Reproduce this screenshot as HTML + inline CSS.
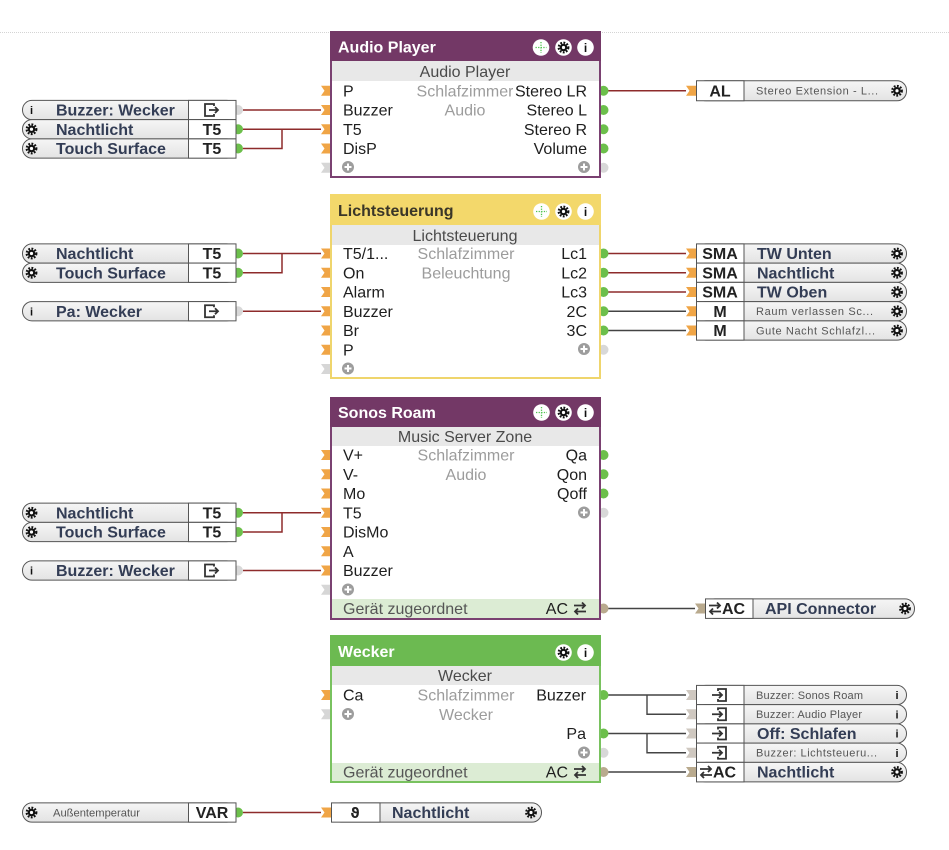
<!DOCTYPE html>
<html><head><meta charset="utf-8">
<style>
body{margin:0;background:#fff;}
svg{display:block;font-family:"Liberation Sans",Arial,sans-serif;}
.t{font-size:16px;fill:#1e1e1e;}
.r{text-anchor:end;}
.c{font-size:16px;fill:#9c9c9c;text-anchor:middle;}
.h{font-size:16px;font-weight:bold;fill:#fff;}
.s{font-size:16px;fill:#4a4a4a;text-anchor:middle;}
.b{font-size:16px;font-weight:bold;fill:#333d55;}
.v{font-size:16px;font-weight:bold;fill:#222;text-anchor:middle;}
.m{font-size:11px;fill:#555;}
.f{font-size:16px;fill:#555;}
.ii{font-size:11px;font-weight:bold;fill:#111;text-anchor:middle;}
.hi{font-size:12px;font-weight:bold;fill:#111;text-anchor:middle;}
</style></head><body>
<svg width="949" height="850" viewBox="0 0 949 850" xmlns="http://www.w3.org/2000/svg">
<defs>
<linearGradient id="g" x1="0" y1="0" x2="0" y2="1"><stop offset="0" stop-color="#f6f6f6"/><stop offset="1" stop-color="#e3e3e3"/></linearGradient>
<g id="gear"><circle r="3.8" fill="#111"/><circle r="4.8" fill="none" stroke="#111" stroke-width="2.2" stroke-dasharray="1.8 1.4"/><circle r="1.6" fill="#fff"/></g>
<polygon id="chO" points="-10,-5 0,-5 0,5 -10,5 -6.5,0" fill="#f0a546"/>
<polygon id="chG" points="-10,-5 0,-5 0,5 -10,5 -6.5,0" fill="#d6d6d6"/>
<polygon id="chT" points="-10,-5 0,-5 0,5 -10,5 -6.5,0" fill="#b9aa8e"/>
<polygon id="chL" points="-10,-5 0,-5 0,5 -10,5 -6.5,0" fill="#cfc8c0"/>
<circle id="pG" r="5" fill="#6cbf4b"/>
<circle id="pX" r="5" fill="#d8d8d8"/>
<circle id="pT" r="5" fill="#b9aa8e"/>
<g id="plus"><circle r="6" fill="#9d9d9d"/><path d="M-3.5 0H3.5M0 -3.5V3.5" stroke="#fff" stroke-width="2"/></g>
<g id="exp" fill="none" stroke="#333" stroke-width="1.8"><path d="M3 -4V-6H-6V6H3V4"/><path d="M-2 0H7M4 -3L7 0L4 3"/></g>
<g id="ent" fill="none" stroke="#333" stroke-width="1.8"><path d="M-2 -4V-6H6V6H-2V4"/><path d="M-8 0H2M-1 -3L2 0L-1 3"/></g>
<g id="swp" fill="none" stroke="#333" stroke-width="1.8"><path d="M-6 -3H5M2 -6L5 -3L2 0"/><path d="M6 3H-5M-2 0L-5 3L-2 6"/></g>
<g id="mv"><circle r="8.3" fill="#fff"/><path d="M-5.5 0H5.5M0 -5.5V5.5" stroke="#4fc34f" stroke-width="1.3" stroke-dasharray="1.3 1.3"/></g>
</defs>

<line x1="0" y1="32.5" x2="949" y2="32.5" stroke="#d4d4d4" stroke-dasharray="1 1"/>

<!-- connectors -->
<g fill="none" stroke="#8e2b2b" stroke-width="1.5">
<path d="M243 110H321M243 129.25H321M243 148.5H282V129.25"/>
<path d="M608 90.75H686"/>
<path d="M243 253.5H321M243 272.75H282V253.5M243 311.25H321"/>
<path d="M608 253.5H686M608 272.75H686M608 292H686"/>
<path d="M243 512.75H321M243 532H282V512.75M243 570.5H321"/>
<path d="M243 812.5H321"/>
</g>
<g fill="none" stroke="#444" stroke-width="1.4">
<path d="M608 311.25H686M608 330.5H686"/>
<path d="M592 608.5H695"/>
<path d="M608 695H686M647 695V714.25H686M608 733.5H686M647 733.5V752.75H686M608 772H686"/>
</g>
<circle cx="592" cy="608.5" r="1.6" fill="#fff" stroke="#444" stroke-width="1"/>

<!-- arrow chevrons at right blocks -->
<use href="#chO" x="696" y="90.75"/>
<use href="#chO" x="696" y="253.5"/><use href="#chO" x="696" y="272.75"/><use href="#chO" x="696" y="292"/><use href="#chO" x="696" y="311.25"/><use href="#chO" x="696" y="330.5"/>
<use href="#chT" x="705" y="608.5"/>
<use href="#chL" x="696" y="695"/><use href="#chL" x="696" y="714.25"/><use href="#chL" x="696" y="733.5"/><use href="#chL" x="696" y="752.75"/>
<use href="#chT" x="696" y="772"/>

<!-- left block ports -->
<use href="#pX" x="238" y="110"/><use href="#pG" x="238" y="129.25"/><use href="#pG" x="238" y="148.5"/>
<use href="#pG" x="238" y="253.5"/><use href="#pG" x="238" y="272.75"/><use href="#pX" x="238" y="311.25"/>
<use href="#pG" x="238" y="512.75"/><use href="#pG" x="238" y="532"/><use href="#pX" x="238" y="570.5"/>
<use href="#pG" x="238" y="812.5"/>

<!-- main block ports (inputs) -->
<use href="#chO" x="331" y="90.75"/><use href="#chO" x="331" y="110"/><use href="#chO" x="331" y="129.25"/><use href="#chO" x="331" y="148.5"/><use href="#chG" x="331" y="167.75"/>
<use href="#chO" x="331" y="253.5"/><use href="#chO" x="331" y="272.75"/><use href="#chO" x="331" y="292"/><use href="#chO" x="331" y="311.25"/><use href="#chO" x="331" y="330.5"/><use href="#chO" x="331" y="349.75"/><use href="#chG" x="331" y="369"/>
<use href="#chO" x="331" y="455"/><use href="#chO" x="331" y="474.25"/><use href="#chO" x="331" y="493.5"/><use href="#chO" x="331" y="512.75"/><use href="#chO" x="331" y="532"/><use href="#chO" x="331" y="551.25"/><use href="#chO" x="331" y="570.5"/><use href="#chG" x="331" y="589.75"/>
<use href="#chO" x="331" y="695"/><use href="#chG" x="331" y="714.25"/>
<use href="#chO" x="331" y="812.5"/>
<!-- outputs -->
<use href="#pG" x="603.5" y="90.75"/><use href="#pG" x="603.5" y="110"/><use href="#pG" x="603.5" y="129.25"/><use href="#pG" x="603.5" y="148.5"/><use href="#pX" x="603.5" y="167.75"/>
<use href="#pG" x="603.5" y="253.5"/><use href="#pG" x="603.5" y="272.75"/><use href="#pG" x="603.5" y="292"/><use href="#pG" x="603.5" y="311.25"/><use href="#pG" x="603.5" y="330.5"/><use href="#pX" x="603.5" y="349.75"/>
<use href="#pG" x="603.5" y="455"/><use href="#pG" x="603.5" y="474.25"/><use href="#pG" x="603.5" y="493.5"/><use href="#pX" x="603.5" y="512.75"/><use href="#pT" x="603.5" y="608.5"/>
<use href="#pG" x="603.5" y="695"/><use href="#pG" x="603.5" y="733.5"/><use href="#pX" x="603.5" y="752.75"/><use href="#pT" x="603.5" y="772"/>

<!-- ===== Audio Player ===== -->
<rect x="331" y="32" width="269" height="145" fill="#fff" stroke="#7a4171" stroke-width="2"/>
<rect x="330" y="31" width="271" height="30" fill="#733866"/>
<text x="338" y="52.5" class="h">Audio Player</text>
<use href="#mv" x="541" y="47.5"/>
<circle cx="563.5" cy="47.5" r="8.3" fill="#fff"/><use href="#gear" x="563.5" y="47.5"/>
<circle cx="585.5" cy="47.5" r="8.3" fill="#fff"/><text x="585.5" y="52" class="hi">i</text>
<rect x="332" y="61" width="267" height="20" fill="#e8e8e8"/>
<text x="465" y="77" class="s">Audio Player</text>
<text x="465" y="96.25" class="c">Schlafzimmer</text>
<text x="465" y="115.5" class="c">Audio</text>
<rect x="513" y="82" width="85" height="17" fill="#fff"/>
<text x="343" y="96.25" class="t">P</text>
<text x="343" y="115.5" class="t">Buzzer</text>
<text x="343" y="134.75" class="t">T5</text>
<text x="343" y="154" class="t">DisP</text>
<text x="587" y="96.25" class="t r">Stereo LR</text>
<text x="587" y="115.5" class="t r">Stereo L</text>
<text x="587" y="134.75" class="t r">Stereo R</text>
<text x="587" y="154" class="t r">Volume</text>
<use href="#plus" x="348" y="167"/><use href="#plus" x="584" y="167"/>

<!-- ===== Lichtsteuerung ===== -->
<rect x="331" y="195" width="269" height="183" fill="#fff" stroke="#efd56c" stroke-width="2"/>
<rect x="330" y="194" width="271" height="31" fill="#f3d86b"/>
<text x="338" y="216" class="h" style="fill:#3a3628">Lichtsteuerung</text>
<use href="#mv" x="541.5" y="211.5"/>
<circle cx="563.5" cy="211.5" r="8.3" fill="#fff"/><use href="#gear" x="563.5" y="211.5"/>
<circle cx="585.5" cy="211.5" r="8.3" fill="#fff"/><text x="585.5" y="216" class="hi">i</text>
<rect x="332" y="225" width="267" height="20" fill="#e8e8e8"/>
<text x="465" y="241" class="s">Lichtsteuerung</text>
<text x="466" y="259" class="c">Schlafzimmer</text>
<text x="466" y="278.25" class="c">Beleuchtung</text>
<text x="343" y="259" class="t">T5/1...</text>
<text x="343" y="278.25" class="t">On</text>
<text x="343" y="297.5" class="t">Alarm</text>
<text x="343" y="316.75" class="t">Buzzer</text>
<text x="343" y="336" class="t">Br</text>
<text x="343" y="355.25" class="t">P</text>
<text x="587" y="259" class="t r">Lc1</text>
<text x="587" y="278.25" class="t r">Lc2</text>
<text x="587" y="297.5" class="t r">Lc3</text>
<text x="587" y="316.75" class="t r">2C</text>
<text x="587" y="336" class="t r">3C</text>
<use href="#plus" x="584" y="349"/><use href="#plus" x="348" y="368.5"/>

<!-- ===== Sonos Roam ===== -->
<rect x="331" y="398" width="269" height="221" fill="#fff" stroke="#7a4171" stroke-width="2"/>
<rect x="330" y="397" width="271" height="30" fill="#733866"/>
<text x="338" y="418" class="h">Sonos Roam</text>
<use href="#mv" x="541.5" y="412.5"/>
<circle cx="563.5" cy="412.5" r="8.3" fill="#fff"/><use href="#gear" x="563.5" y="412.5"/>
<circle cx="585.5" cy="412.5" r="8.3" fill="#fff"/><text x="585.5" y="417" class="hi">i</text>
<rect x="332" y="427" width="267" height="19" fill="#e8e8e8"/>
<text x="465" y="442" class="s">Music Server Zone</text>
<text x="466" y="460.5" class="c">Schlafzimmer</text>
<text x="466" y="479.75" class="c">Audio</text>
<text x="343" y="460.5" class="t">V+</text>
<text x="343" y="479.75" class="t">V-</text>
<text x="343" y="499" class="t">Mo</text>
<text x="343" y="518.25" class="t">T5</text>
<text x="343" y="537.5" class="t">DisMo</text>
<text x="343" y="556.75" class="t">A</text>
<text x="343" y="576" class="t">Buzzer</text>
<text x="587" y="460.5" class="t r">Qa</text>
<text x="587" y="479.75" class="t r">Qon</text>
<text x="587" y="499" class="t r">Qoff</text>
<use href="#plus" x="584" y="512.5"/><use href="#plus" x="348" y="589.5"/>
<rect x="332" y="599" width="267" height="19" fill="#dcecd4"/>
<text x="343" y="614" class="f">Gerät zugeordnet</text>
<text x="568" y="614" class="t r">AC</text>
<use href="#swp" x="580" y="608.5"/>

<!-- ===== Wecker ===== -->
<rect x="331" y="636" width="269" height="146" fill="#fff" stroke="#79c25f" stroke-width="2"/>
<rect x="330" y="635" width="271" height="31" fill="#6cba51"/>
<text x="338" y="657" class="h">Wecker</text>
<circle cx="563.5" cy="652.5" r="8.3" fill="#fff"/><use href="#gear" x="563.5" y="652.5"/>
<circle cx="585.5" cy="652.5" r="8.3" fill="#fff"/><text x="585.5" y="657" class="hi">i</text>
<rect x="332" y="666" width="267" height="19" fill="#e8e8e8"/>
<text x="465" y="681" class="s">Wecker</text>
<text x="466" y="700.5" class="c">Schlafzimmer</text>
<text x="466" y="719.75" class="c">Wecker</text>
<text x="343" y="700.5" class="t">Ca</text>
<use href="#plus" x="348" y="714"/>
<text x="586" y="700.5" class="t r">Buzzer</text>
<text x="586" y="739" class="t r">Pa</text>
<use href="#plus" x="584" y="752.5"/>
<rect x="332" y="763" width="267" height="18" fill="#dcecd4"/>
<text x="343" y="777.5" class="f">Gerät zugeordnet</text>
<text x="568" y="777.5" class="t r">AC</text>
<use href="#swp" x="580" y="772"/>

<!-- ===== Left input blocks ===== -->
<g stroke="#555" stroke-width="1">
<rect x="22.5" y="100.4" width="213.5" height="19.25" rx="9.5" fill="url(#g)"/><rect x="188.5" y="100.4" width="47.5" height="19.25" fill="#fff"/>
<rect x="22.5" y="119.6" width="213.5" height="19.25" rx="9.5" fill="url(#g)"/><rect x="188.5" y="119.6" width="47.5" height="19.25" fill="#fff"/>
<rect x="22.5" y="138.9" width="213.5" height="19.25" rx="9.5" fill="url(#g)"/><rect x="188.5" y="138.9" width="47.5" height="19.25" fill="#fff"/>
<rect x="22.5" y="243.9" width="213.5" height="19.25" rx="9.5" fill="url(#g)"/><rect x="188.5" y="243.9" width="47.5" height="19.25" fill="#fff"/>
<rect x="22.5" y="263.1" width="213.5" height="19.25" rx="9.5" fill="url(#g)"/><rect x="188.5" y="263.1" width="47.5" height="19.25" fill="#fff"/>
<rect x="22.5" y="301.6" width="213.5" height="19.25" rx="9.5" fill="url(#g)"/><rect x="188.5" y="301.6" width="47.5" height="19.25" fill="#fff"/>
<rect x="22.5" y="503.1" width="213.5" height="19.25" rx="9.5" fill="url(#g)"/><rect x="188.5" y="503.1" width="47.5" height="19.25" fill="#fff"/>
<rect x="22.5" y="522.4" width="213.5" height="19.25" rx="9.5" fill="url(#g)"/><rect x="188.5" y="522.4" width="47.5" height="19.25" fill="#fff"/>
<rect x="22.5" y="560.9" width="213.5" height="19.25" rx="9.5" fill="url(#g)"/><rect x="188.5" y="560.9" width="47.5" height="19.25" fill="#fff"/>
<rect x="22.5" y="802.9" width="213.5" height="19.25" rx="9.5" fill="url(#g)"/><rect x="188.5" y="802.9" width="47.5" height="19.25" fill="#fff"/>
</g>
<text x="31.5" y="114" class="ii">i</text><text x="56" y="115.5" class="b">Buzzer: Wecker</text><use href="#exp" x="211" y="110"/>
<use href="#gear" x="31.5" y="129.25"/><text x="56" y="134.75" class="b">Nachtlicht</text><text x="212" y="134.75" class="v">T5</text>
<use href="#gear" x="31.5" y="148.5"/><text x="56" y="154" class="b">Touch Surface</text><text x="212" y="154" class="v">T5</text>
<use href="#gear" x="31.5" y="253.5"/><text x="56" y="259" class="b">Nachtlicht</text><text x="212" y="259" class="v">T5</text>
<use href="#gear" x="31.5" y="272.75"/><text x="56" y="278.25" class="b">Touch Surface</text><text x="212" y="278.25" class="v">T5</text>
<text x="31.5" y="315.25" class="ii">i</text><text x="56" y="316.75" class="b">Pa: Wecker</text><use href="#exp" x="211" y="311.25"/>
<use href="#gear" x="31.5" y="512.75"/><text x="56" y="518.25" class="b">Nachtlicht</text><text x="212" y="518.25" class="v">T5</text>
<use href="#gear" x="31.5" y="532"/><text x="56" y="537.5" class="b">Touch Surface</text><text x="212" y="537.5" class="v">T5</text>
<text x="31.5" y="574.5" class="ii">i</text><text x="56" y="576" class="b">Buzzer: Wecker</text><use href="#exp" x="211" y="570.5"/>
<use href="#gear" x="31.5" y="812.5"/><text x="53" y="816.5" class="m" textLength="87" lengthAdjust="spacingAndGlyphs">Außentemperatur</text><text x="212" y="818" class="v">VAR</text>

<!-- ===== Right output blocks ===== -->
<g stroke="#555" stroke-width="1">
<rect x="696.5" y="80.75" width="210" height="20" rx="9.5" fill="url(#g)"/><rect x="696.5" y="80.75" width="47.5" height="20" fill="#fff"/>
<rect x="696.5" y="243.9" width="210" height="19.25" rx="9.5" fill="url(#g)"/><rect x="696.5" y="243.9" width="47.5" height="19.25" fill="#fff"/>
<rect x="696.5" y="263.1" width="210" height="19.25" rx="9.5" fill="url(#g)"/><rect x="696.5" y="263.1" width="47.5" height="19.25" fill="#fff"/>
<rect x="696.5" y="282.4" width="210" height="19.25" rx="9.5" fill="url(#g)"/><rect x="696.5" y="282.4" width="47.5" height="19.25" fill="#fff"/>
<rect x="696.5" y="301.6" width="210" height="19.25" rx="9.5" fill="url(#g)"/><rect x="696.5" y="301.6" width="47.5" height="19.25" fill="#fff"/>
<rect x="696.5" y="320.9" width="210" height="19.25" rx="9.5" fill="url(#g)"/><rect x="696.5" y="320.9" width="47.5" height="19.25" fill="#fff"/>
<rect x="705.5" y="598.9" width="209" height="19.5" rx="9.5" fill="url(#g)"/><rect x="705.5" y="598.9" width="47.5" height="19.5" fill="#fff"/>
<rect x="696.5" y="685.4" width="210" height="19.25" rx="9.5" fill="url(#g)"/><rect x="696.5" y="685.4" width="47.5" height="19.25" fill="#fff"/>
<rect x="696.5" y="704.6" width="210" height="19.25" rx="9.5" fill="url(#g)"/><rect x="696.5" y="704.6" width="47.5" height="19.25" fill="#fff"/>
<rect x="696.5" y="723.9" width="210" height="19.25" rx="9.5" fill="url(#g)"/><rect x="696.5" y="723.9" width="47.5" height="19.25" fill="#fff"/>
<rect x="696.5" y="743.1" width="210" height="19.25" rx="9.5" fill="url(#g)"/><rect x="696.5" y="743.1" width="47.5" height="19.25" fill="#fff"/>
<rect x="696.5" y="762.4" width="210" height="19.5" rx="9.5" fill="url(#g)"/><rect x="696.5" y="762.4" width="47.5" height="19.5" fill="#fff"/>
<rect x="331.5" y="802.9" width="210" height="19.25" rx="9.5" fill="url(#g)"/><rect x="331.5" y="802.9" width="48.5" height="19.25" fill="#fff"/>
</g>
<text x="720" y="96.5" class="v">AL</text><text x="756" y="94.5" class="m" textLength="122" lengthAdjust="spacing">Stereo Extension - L...</text><use href="#gear" x="897" y="90.75"/>
<text x="720" y="259" class="v">SMA</text><text x="757" y="259" class="b">TW Unten</text><use href="#gear" x="897" y="253.5"/>
<text x="720" y="278.25" class="v">SMA</text><text x="757" y="278.25" class="b">Nachtlicht</text><use href="#gear" x="897" y="272.75"/>
<text x="720" y="297.5" class="v">SMA</text><text x="757" y="297.5" class="b">TW Oben</text><use href="#gear" x="897" y="292"/>
<text x="720" y="316.75" class="v">M</text><text x="756" y="315" class="m" textLength="117" lengthAdjust="spacing">Raum verlassen Sc...</text><use href="#gear" x="897" y="311.25"/>
<text x="720" y="336" class="v">M</text><text x="756" y="334.25" class="m" textLength="119" lengthAdjust="spacing">Gute Nacht Schlafzl...</text><use href="#gear" x="897" y="330.5"/>
<use href="#swp" x="715" y="608.5"/><text x="722" y="614" class="b" style="fill:#222">AC</text><text x="765" y="614" class="b">API Connector</text><use href="#gear" x="905" y="608.5"/>
<use href="#ent" x="720" y="695"/><text x="756" y="698.75" class="m" textLength="107" lengthAdjust="spacing">Buzzer: Sonos Roam</text><text x="897" y="699" class="ii">i</text>
<use href="#ent" x="720" y="714.25"/><text x="756" y="718" class="m" textLength="106" lengthAdjust="spacing">Buzzer: Audio Player</text><text x="897" y="718.25" class="ii">i</text>
<use href="#ent" x="720" y="733.5"/><text x="757" y="739" class="b">Off: Schlafen</text><text x="897" y="737.5" class="ii">i</text>
<use href="#ent" x="720" y="752.75"/><text x="756" y="756.5" class="m" textLength="121" lengthAdjust="spacing">Buzzer: Lichtsteueru...</text><text x="897" y="756.75" class="ii">i</text>
<use href="#swp" x="706" y="772"/><text x="713" y="777.5" class="b" style="fill:#222">AC</text><text x="757" y="777.5" class="b">Nachtlicht</text><use href="#gear" x="897" y="772"/>
<text x="355" y="818" class="v" style="font-family:'DejaVu Sans',sans-serif;font-size:14px">ϑ</text><text x="392" y="818" class="b">Nachtlicht</text><use href="#gear" x="531" y="812.5"/>
</svg>
</body></html>
